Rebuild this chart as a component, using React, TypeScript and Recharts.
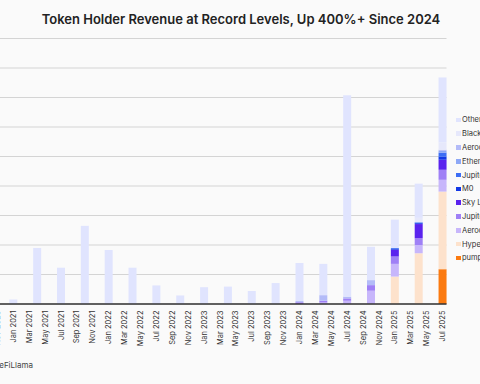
import React from 'react'
import { BarChart, Bar, XAxis, YAxis, CartesianGrid } from 'recharts'

// Monthly categories on the axis, bars only on quarter starts
const MONTHS = [
  'Nov 2020', 'Dec 2020',
  'Jan 2021', 'Feb 2021', 'Mar 2021', 'Apr 2021', 'May 2021', 'Jun 2021',
  'Jul 2021', 'Aug 2021', 'Sep 2021', 'Oct 2021', 'Nov 2021', 'Dec 2021',
  'Jan 2022', 'Feb 2022', 'Mar 2022', 'Apr 2022', 'May 2022', 'Jun 2022',
  'Jul 2022', 'Aug 2022', 'Sep 2022', 'Oct 2022', 'Nov 2022', 'Dec 2022',
  'Jan 2023', 'Feb 2023', 'Mar 2023', 'Apr 2023', 'May 2023', 'Jun 2023',
  'Jul 2023', 'Aug 2023', 'Sep 2023', 'Oct 2023', 'Nov 2023', 'Dec 2023',
  'Jan 2024', 'Feb 2024', 'Mar 2024', 'Apr 2024', 'May 2024', 'Jun 2024',
  'Jul 2024', 'Aug 2024', 'Sep 2024', 'Oct 2024', 'Nov 2024', 'Dec 2024',
  'Jan 2025', 'Feb 2025', 'Mar 2025', 'Apr 2025', 'May 2025', 'Jun 2025',
  'Jul 2025',
]

const QUARTERS = [
  'Jan 2021', 'Apr 2021', 'Jul 2021', 'Oct 2021',
  'Jan 2022', 'Apr 2022', 'Jul 2022', 'Oct 2022',
  'Jan 2023', 'Apr 2023', 'Jul 2023', 'Oct 2023',
  'Jan 2024', 'Apr 2024', 'Jul 2024', 'Oct 2024',
  'Jan 2025', 'Apr 2025', 'Jul 2025',
]

// values per quarter (same order as QUARTERS)
const PUMP = [0, 0, 0, 0, 0, 0, 0, 0, 0, 0, 0, 0, 0, 0, 0, 0, 0, 0, 1.18]
const HYPERLIQUID = [0, 0, 0, 0, 0, 0, 0, 0, 0, 0, 0, 0, 0, 0, 0, 0, 0.93, 1.72, 2.63]
const AERO_SLIP = [0, 0, 0, 0, 0, 0, 0, 0, 0, 0, 0, 0, 0, 0.05, 0.11, 0.45, 0.43, 0.28, 0.4]
const JUP_DCA = [0, 0, 0, 0, 0, 0, 0, 0, 0, 0, 0, 0, 0.06, 0.06, 0.08, 0.19, 0.25, 0.23, 0.34]
const SKY = [0, 0, 0, 0, 0, 0, 0, 0, 0, 0, 0, 0, 0, 0, 0, 0, 0.23, 0.48, 0.34]
const M0 = [0, 0, 0, 0, 0, 0, 0, 0, 0, 0, 0, 0, 0, 0, 0, 0, 0.03, 0.03, 0.1]
const JUP_PERPS = [0, 0, 0, 0, 0, 0, 0, 0, 0, 0, 0, 0, 0, 0, 0, 0, 0.03, 0.03, 0.14]
const ETHENA = [0, 0, 0, 0, 0, 0, 0, 0, 0, 0, 0, 0, 0, 0, 0, 0, 0, 0, 0.06]
const AERO_V1 = [0, 0, 0, 0, 0, 0, 0, 0, 0, 0, 0, 0, 0.04, 0.19, 0.06, 0.17, 0, 0, 0.04]
const BLACKHOLE = [0, 0, 0, 0, 0, 0, 0, 0, 0, 0, 0, 0, 0, 0, 0, 0, 0, 0.15, 0.25]
const OTHERS = [
  0.15, 1.9, 1.23, 2.65, 1.83, 1.23, 0.63, 0.29, 0.57, 0.59, 0.44, 0.71,
  1.29, 1.06, 6.83, 1.13, 0.96, 1.16, 2.2,
]

// bottom of stack first
const SERIES = [
  { key: 'pump', name: 'pump.fun', color: '#fb7a10', values: PUMP },
  { key: 'hype', name: 'Hyperliquid', color: '#fde2cc', values: HYPERLIQUID },
  { key: 'aeroSlip', name: 'Aerodrome Slipstream', color: '#c7b6fb', values: AERO_SLIP },
  { key: 'jupDca', name: 'Jupiter DCA', color: '#9f80f6', values: JUP_DCA },
  { key: 'sky', name: 'Sky Lending', color: '#5a22ee', values: SKY },
  { key: 'm0', name: 'M0', color: '#1238e6', values: M0 },
  { key: 'jupPerps', name: 'Jupiter Perps', color: '#3d6ef5', values: JUP_PERPS },
  { key: 'ethena', name: 'Ethena', color: '#8da8f6', values: ETHENA },
  { key: 'aeroV1', name: 'Aerodrome V1', color: '#b3bbf8', values: AERO_V1 },
  { key: 'black', name: 'Blackhole', color: '#e6e8fb', values: BLACKHOLE },
  { key: 'others', name: 'Others', color: '#e0e4fe', values: OTHERS },
]

const Y_TICKS = [0, 1, 2, 3, 4, 5, 6, 7, 8, 9]

const FONT = 'Inter, "Noto Sans", sans-serif'

const data = MONTHS.map(m => {
  const row: Record<string, string | number | undefined> = { month: m }
  const qi = QUARTERS.indexOf(m)
  SERIES.forEach(s => {
    row[s.key] = qi >= 0 && s.values[qi] > 0 ? s.values[qi] : undefined
  })
  return row
})

function MonthTick(props: any) {
  const { x, y, payload } = props
  return (
    <g transform={`translate(${x},${y})`}>
      <text
        transform="rotate(-90)"
        x={-6.5}
        y={0}
        dy="0.35em"
        textAnchor="end"
        fontSize={7.5}
        fill="#333"
        fontFamily={FONT}
      >
        {payload.value}
      </text>
    </g>
  )
}

export default function App() {
  return (
    <div
      style={{
        position: 'fixed',
        left: 0,
        top: 0,
        width: 480,
        height: 384,
        overflow: 'hidden',
        background: '#fafafa',
        fontFamily: FONT,
      }}
    >
      <div
        style={{
          position: 'absolute',
          left: 0,
          width: 482,
          top: 10.5,
          textAlign: 'center',
          fontSize: 13,
          fontWeight: 600,
          color: '#222',
          whiteSpace: 'nowrap',
        }}
      >
        Token Holder Revenue at Record Levels, Up 400%+ Since 2024
      </div>

      <div style={{ position: 'absolute', left: -20, top: 0 }}>
        <BarChart
          width={490}
          height={384}
          data={data}
          margin={{ top: 38.5, right: 23.5, bottom: 30, left: 13.4 }}
          barCategoryGap={0}
        >
          <CartesianGrid horizontal vertical={false} stroke="#d4d4d4" strokeWidth={1} />
          <YAxis hide domain={[0, 9]} ticks={Y_TICKS} />
          <XAxis
            dataKey="month"
            interval={1}
            height={50}
            tickLine={false}
            tickSize={0}
            tickMargin={0}
            tick={<MonthTick />}
            axisLine={{ stroke: '#333', strokeWidth: 1.5 }}
          />
          {SERIES.map(s => (
            <Bar
              key={s.key}
              dataKey={s.key}
              name={s.name}
              stackId="rev"
              fill={s.color}
              isAnimationActive={false}
            />
          ))}
        </BarChart>
      </div>

      {/* legend, top of stack first */}
      <div style={{ position: 'absolute', left: 456, top: 113 }}>
        {[...SERIES].reverse().map(s => (
          <div
            key={s.key}
            style={{
              display: 'flex',
              alignItems: 'center',
              height: 13.8,
              fontSize: 7.5,
              color: '#333',
              whiteSpace: 'nowrap',
            }}
          >
            <span
              style={{
                display: 'inline-block',
                width: 4.5,
                height: 4.5,
                background: s.color,
                marginRight: 1.5,
              }}
            />
            {s.name}
          </div>
        ))}
      </div>

      <div
        style={{
          position: 'absolute',
          right: 447,
          top: 360,
          fontSize: 8,
          color: '#444',
          whiteSpace: 'nowrap',
        }}
      >
        Source: DeFiLlama
      </div>
    </div>
  )
}
